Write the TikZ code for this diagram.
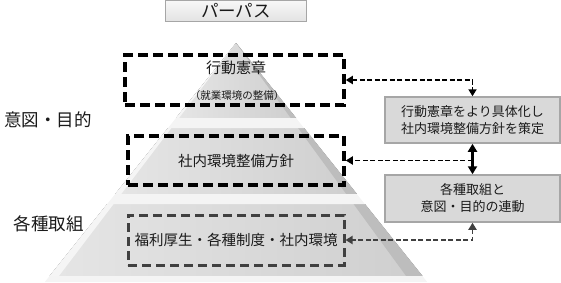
\documentclass[tikz,border=0pt]{standalone}
\usepackage{fontspec}
\setmainfont{Noto Sans CJK JP}
\usepackage{tikz}
\usetikzlibrary{positioning, arrows.meta, calc}
\definecolor{inkgrey}{HTML}{1A1A1A}
\definecolor{boxgrey}{HTML}{D9D9D9}
\definecolor{rimgrey}{HTML}{A6A6A6}
\definecolor{darkdash}{HTML}{404040}

\begin{document}
\begin{tikzpicture}[x=1pt, y=-1pt,
                purpose/.style={draw=rimgrey, line width=1.5pt, top color=gray!6, bottom color=gray!22, minimum width=141pt, minimum height=21pt, inner sep=0pt, text=inkgrey, font=\fontsize{17.5pt}{19pt}\selectfont},
                dashbox/.style={draw=black, line width=3.5pt, dash pattern=on 10pt off 5pt, rectangle, inner sep=0pt, text=inkgrey, font=\fontsize{14.5pt}{16pt}\selectfont},
                greybox/.style={dashbox, draw=darkdash, line width=3pt, dash pattern=on 9pt off 5pt},
                infobox/.style={draw=rimgrey, line width=1.5pt, fill=boxgrey, minimum width=175pt, inner sep=0pt, align=center, text=inkgrey, font=\fontsize{13pt}{17pt}\selectfont},
                title/.style={text=inkgrey, inner sep=0pt, font=\fontsize{15pt}{17pt}\selectfont},
                subtitle/.style={text=inkgrey, inner sep=0pt, font=\fontsize{10.5pt}{12pt}\selectfont},
                side/.style={text=inkgrey, inner sep=0pt, font=\fontsize{17.5pt}{19pt}\selectfont},
                link/.style={line width=1.8pt, dash pattern=on 5pt off 2.5pt, {Triangle[length=7pt, width=8pt]}-{Triangle[length=7pt, width=8pt]}},
                bidir/.style={line width=2.2pt, {Triangle[length=8pt, width=9pt]}-{Triangle[length=8pt, width=9pt]}}
            ]
            \useasboundingbox (0,0) rectangle (561,282);

            % Pyramide
            \foreach \t/\b in {43/118, 128/194, 204/276}{
                \fill[left color=gray!20, right color=gray!38] ({236-0.8*(\t-43)},\t) -- ({236+0.8*(\t-43)},\t) -- ({236+0.8*(\b-43)},\b) -- ({236-0.8*(\b-43)},\b) -- cycle;
                \fill[gray!52] ({236+0.8*(\t-43)},\t) -- ({236+0.8*(\b-43)},\b) -- ({236+0.73*(\b-43)},\b) -- ({236+0.73*(\t-43)},\t) -- cycle;
                \fill[gray!8] ({236-0.8*(\t-43)},\t) -- ({236-0.8*(\b-43)},\b) -- ({236-0.76*(\b-43)},\b) -- ({236-0.76*(\t-43)},\t) -- cycle;
            }
            \foreach \t/\b in {118/128, 194/204, 276/282}{
                \fill[gray!9] ({236-0.8*(\t-43)},\t) -- ({236+0.8*(\t-43)},\t) -- ({236+0.8*(\b-43)},\b) -- ({236-0.8*(\b-43)},\b) -- cycle;
            }

            % Knoten
            \node[purpose] (purpose) at (236,11) {パーパス};
            \node[dashbox, minimum width=219pt, minimum height=50pt] (kodo) at (234.5,80) {};
            \node[title] (kodotxt) at (236,68) {行動憲章};
            \node[subtitle] (shugyo) at (237,96) {（就業環境の整備）};
            \node[dashbox, minimum width=216pt, minimum height=49pt] (seibi) at (236,160.5) {社内環境整備方針};
            \node[greybox, minimum width=216pt, minimum height=50pt] (fukuri) at (236,240) {福利厚生・各種制度・社内環境};

            \node[infobox, minimum height=46pt] (gutai) at (472.5,120) {行動憲章をより具体化し\\社内環境整備方針を策定};
            \node[infobox, minimum height=47pt] (rendo) at (472.5,198.5) {各種取組と\\意図・目的の連動};

            \node[side] (ito) at (48,120) {意図・目的};
            \node[side] (kakushu) at (48.5,224) {各種取組};

            % Verbindungen
            \draw[link] (kodo.east) -| (gutai.north);
            \draw[bidir] (gutai.south) -- (rendo.north);
            \coordinate (junction) at (gutai.south |- seibi.east);
            \draw[link, -{Triangle[length=7pt, width=8pt]}] (junction) -- (seibi.east);
            \draw[link, darkdash] (rendo.south) |- (fukuri.east);

        \end{tikzpicture}
\end{document}
